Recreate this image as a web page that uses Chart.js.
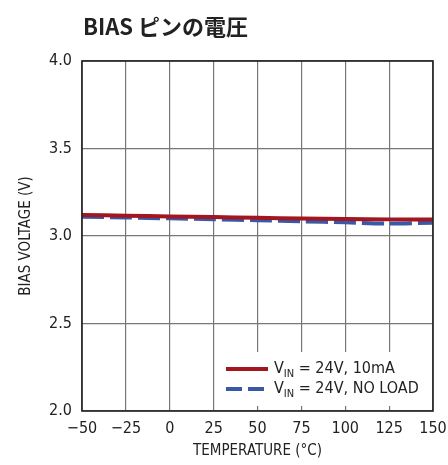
<!DOCTYPE html>
<html>
<head>
<meta charset="utf-8">
<script src="https://cdn.jsdelivr.net/npm/chart.js@4/dist/chart.umd.min.js"></script>
<style>
  html, body { margin: 0; padding: 0; background: #fff; }
  #wrap { width: 448px; height: 465px; position: relative; }
</style>
</head>
<body>
<div id="wrap"><canvas id="c"></canvas></div>
<script>
// Temperature sweep (°C) and measured BIAS pin voltage (V)
const temperatures = [-50, -25, 0, 25, 50, 75, 100, 125, 150];
const biasLoaded   = [3.120, 3.116, 3.112, 3.108, 3.104, 3.100, 3.097, 3.095, 3.095];
const biasNoLoad   = [3.110, 3.106, 3.101, 3.096, 3.090, 3.084, 3.078, 3.071, 3.076];
const seriesNames  = [["V", "IN", " = 24V, 10mA"], ["V", "IN", " = 24V, NO LOAD"]];
const xTicks = { min: -50, max: 150, step: 25 };
const yTicks = { min: 2.0, max: 4.0, step: 0.5 };

const FONT = "'DejaVu Sans Condensed', 'Liberation Sans Narrow', Arial, sans-serif";
const RED = '#a2161f';
const BLUE = '#3a58a8';

const pts = arr => temperatures.map((t, i) => ({ x: t, y: arr[i] }));

// Title, plot frame and legend with subscript text
const decorations = {
  id: 'decorations',
  afterDraw(chart) {
    const ctx = chart.ctx;
    const a = chart.chartArea;
    ctx.save();
    // frame
    ctx.strokeStyle = '#222';
    ctx.lineWidth = 1.6;
    ctx.strokeRect(a.left, a.top, a.right - a.left, a.bottom - a.top);

    // title
    ctx.fillStyle = '#222';
    ctx.font = "bold 22px 'Noto Sans CJK JP', sans-serif";
    ctx.textBaseline = 'alphabetic';
    ctx.textAlign = 'left';
    ctx.fillText('BIAS ピンの電圧', 83, 35);

    // legend
    const lx = 219, ly = 352, lw = a.right - lx - 1, lh = a.bottom - ly - 5;
    ctx.fillStyle = '#fff';
    ctx.fillRect(lx, ly, lw, lh);
    const rows = [ly + 17, ly + 37];
    chart.data.datasets.forEach((ds, i) => {
      const y = rows[i];
      ctx.strokeStyle = ds.borderColor;
      ctx.lineWidth = 4;
      ctx.setLineDash(i === 1 ? [16, 6] : []);
      ctx.beginPath();
      ctx.moveTo(226, y);
      ctx.lineTo(268, y);
      ctx.stroke();
      ctx.setLineDash([]);
      const parts = seriesNames[i];
      let x = 274;
      ctx.fillStyle = '#222';
      ctx.textBaseline = 'middle';
      ctx.font = '16px ' + FONT;
      ctx.fillText(parts[0], x, y);
      x += ctx.measureText(parts[0]).width;
      ctx.font = '11px ' + FONT;
      ctx.fillText(parts[1], x, y + 5);
      x += ctx.measureText(parts[1]).width;
      ctx.font = '16px ' + FONT;
      ctx.fillText(parts[2], x, y);
    });
    ctx.restore();
  }
};

new Chart(document.getElementById('c'), {
  type: 'line',
  data: {
    datasets: [
      { data: pts(biasLoaded), borderColor: RED, borderWidth: 4, pointRadius: 0, tension: 0.3, fill: false },
      { data: pts(biasNoLoad), borderColor: BLUE, borderWidth: 4, borderDash: [22, 6], pointRadius: 0, tension: 0.3, fill: false }
    ]
  },
  options: {
    responsive: true,
    maintainAspectRatio: false,
    animation: false,
    layout: { padding: { top: 61, right: 0, left: 0, bottom: 0 } },
    plugins: { legend: { display: false }, tooltip: { enabled: false }, title: { display: false } },
    scales: {
      x: {
        type: 'linear',
        min: xTicks.min, max: xTicks.max,
        afterFit(s) { s.height = 54; s.paddingRight = 15; s.paddingLeft = 0; },
        afterBuildTicks(s) {
          const t = [];
          for (let v = xTicks.min; v <= xTicks.max; v += xTicks.step) t.push({ value: v });
          s.ticks = t;
        },
        ticks: {
          color: '#222', font: { family: FONT, size: 16 }, padding: 8, maxRotation: 0,
          callback: v => String(v).replace('-', '\u2212')
        },
        grid: { color: '#777', lineWidth: 1.2, drawTicks: false },
        border: { display: false },
        title: { display: true, text: 'TEMPERATURE (°C)', color: '#222', font: { family: FONT, size: 15 }, padding: { top: 5, bottom: 5 } }
      },
      y: {
        min: yTicks.min, max: yTicks.max,
        afterFit(s) { s.width = 82; },
        afterBuildTicks(s) {
          const t = [];
          for (let v = yTicks.min; v <= yTicks.max + 1e-9; v += yTicks.step) t.push({ value: +v.toFixed(2) });
          s.ticks = t;
        },
        ticks: {
          color: '#222', font: { family: FONT, size: 16 }, padding: 10,
          callback: v => v.toFixed(1)
        },
        grid: { color: '#777', lineWidth: 1.2, drawTicks: false },
        border: { display: false },
        title: { display: true, text: 'BIAS VOLTAGE (V)', color: '#222', font: { family: FONT, size: 15 }, padding: { top: 17, bottom: 0 } }
      }
    }
  },
  plugins: [decorations]
});
</script>
</body>
</html>
